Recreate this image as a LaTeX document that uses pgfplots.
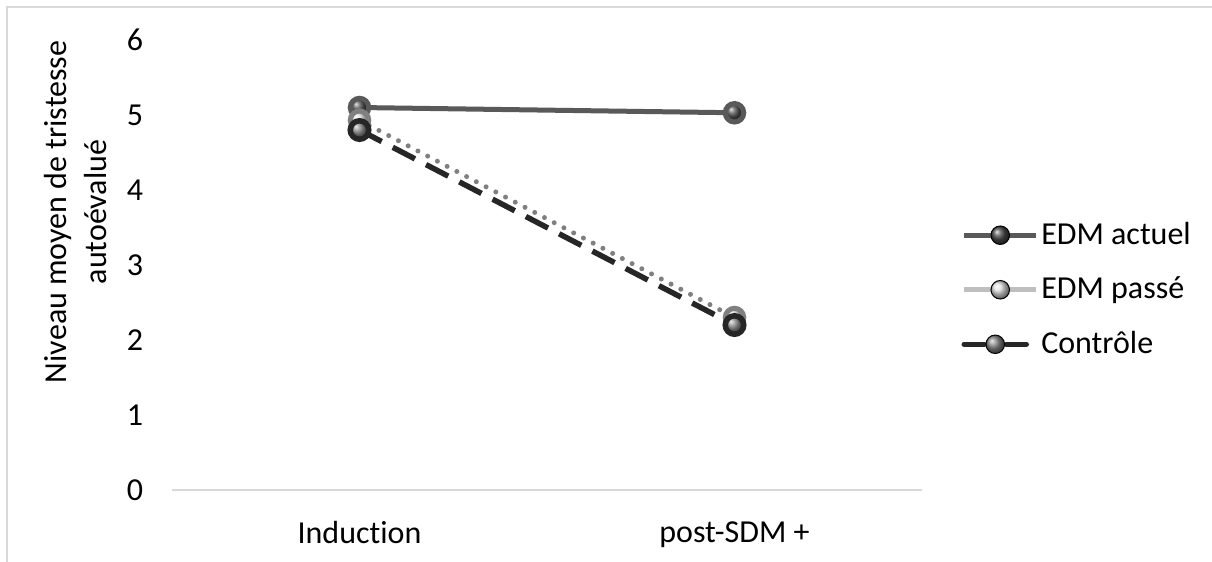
\documentclass[border=0pt]{standalone}
\usepackage{fontspec}
\setmainfont{Carlito}[Ligatures=CommonOff]
\usepackage{pgfplots}
\pgfplotsset{compat=1.18}
\usetikzlibrary{plotmarks}
\definecolor{actuel}{HTML}{595959}
\definecolor{actuelm}{HTML}{4A4A4A}
\definecolor{passel}{HTML}{BFBFBF}
\definecolor{passed}{HTML}{808080}
\definecolor{passem}{HTML}{E0E0E0}
\definecolor{ctrl}{HTML}{262626}
\definecolor{ctrlm}{HTML}{858585}
\definecolor{frame}{HTML}{D9D9D9}
\begin{document}
\begin{tikzpicture}
\path[use as bounding box] (-68.8pt,-28.8pt) rectangle (416pt,196pt);
\draw[frame, line width=0.6pt] (-66pt,-30pt) -- (-66pt,193.2pt) -- (420pt,193.2pt);
\begin{axis}[
  at={(0pt,0pt)}, anchor=south west,
  scale only axis, width=300pt, height=180pt,
  xmin=-0.5, xmax=1.5, ymin=0, ymax=6,
  xtick={0,1}, xticklabels={Induction, post-SDM +},
  ytick={0,1,2,3,4,5,6},
  axis y line*=left,
  axis x line*=bottom,
  y axis line style={draw=none},
  x axis line style={-, draw=frame, line width=0.6pt},
  major tick length=0pt,
  /pgf/number format/assume math mode=true,
  ticklabel style={font=\fontsize{12.8}{15}\selectfont, text=black},
  yticklabel style={xshift=-8pt},
  xticklabel style={yshift=-9pt},
  ylabel={Niveau moyen de tristesse\\autoévalué},
  ylabel style={at={(axis description cs:-0.1293,0.618)}, anchor=center, align=center, font=\fontsize{12.8}{16}\selectfont},
  legend style={at={(axis description cs:1.052,0.445)}, anchor=west, draw=none, fill=none,
    font=\fontsize{12.8}{15}\selectfont, row sep=9.5pt, inner sep=0pt,
    nodes={inner sep=1pt}},
  legend cell align=left,
  clip=false,
]
\addplot[forget plot, actuel, line width=2pt, mark=ball, mark size=3.7pt, mark options={ball color=actuelm}] coordinates {(0,5.1) (1,5.03)};
\addplot[forget plot, passed, line width=2pt, line cap=round, dash pattern=on 0pt off 4.4pt, mark=ball, mark size=3.7pt, mark options={solid, ball color=passem}] coordinates {(0,4.93) (1,2.3)};
\addplot[forget plot, ctrl, line width=2.2pt, dash pattern=on 10pt off 5pt, mark=ball, mark size=3.7pt, mark options={solid, ball color=ctrlm}] coordinates {(0,4.8) (1,2.2)};
\addlegendimage{legend image code/.code={\draw[actuel, line width=2pt] (0pt,0pt) -- (28.8pt,0pt); \shade[ball color=actuelm] (14.4pt,0pt) circle (3.7pt);}}
\addlegendentry{EDM actuel}
\addlegendimage{legend image code/.code={\draw[passel, line width=2pt] (0pt,0pt) -- (28.8pt,0pt); \shade[ball color=passem] (14.4pt,0pt) circle (3.7pt);}}
\addlegendentry{EDM passé}
\addlegendimage{legend image code/.code={\draw[ctrl, line width=2.2pt, line cap=round] (0pt,0pt) -- (8pt,0pt); \draw[ctrl, line width=2.2pt, line cap=round] (16.8pt,0pt) -- (24.8pt,0pt); \shade[ball color=ctrlm] (12.4pt,0pt) circle (3.7pt);}}
\addlegendentry{Contrôle}
\end{axis}
\end{tikzpicture}
\end{document}
